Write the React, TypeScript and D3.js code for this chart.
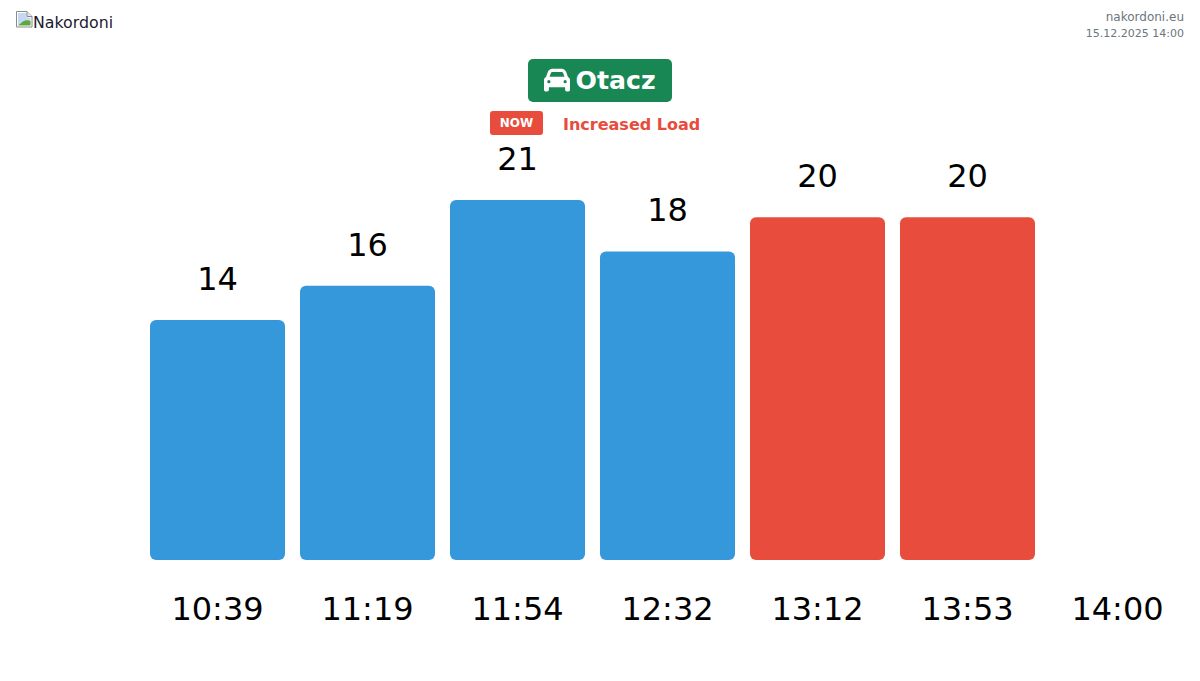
import React from "react";
import * as d3 from "d3";

const times = ["10:39", "11:19", "11:54", "12:32", "13:12", "13:53", "14:00"];
const counts = [14, 16, 21, 18, 20, 20];
const colors = ["#3498db", "#3498db", "#3498db", "#3498db", "#e74c3c", "#e74c3c"];
const crossing = "Otacz";
const statusBadge = "NOW";
const statusText = "Increased Load";
const site = "nakordoni.eu";
const stamp = "15.12.2025 14:00";
const logoAlt = "Nakordoni";
const CAR = "M135.2 117.4L109.1 192H402.9l-26.1-74.6C372.3 104.6 360.2 96 346.6 96H165.4c-13.6 0-25.7 8.6-30.2 21.4zM39.6 196.8L74.8 96.3C88.3 57.8 124.6 32 165.4 32H346.6c40.8 0 77.1 25.8 90.6 64.3l35.2 100.5c23.2 9.6 39.6 32.5 39.6 59.2V400v48c0 17.7-14.3 32-32 32H448c-17.7 0-32-14.3-32-32V400H96v48c0 17.7-14.3 32-32 32H32c-17.7 0-32-14.3-32-32V400 256c0-26.7 16.4-49.6 39.6-59.2zM128 288a32 32 0 1 0 -64 0 32 32 0 1 0 64 0zm288 32a32 32 0 1 0 0-64 32 32 0 1 0 0 64z";

const FONT = "'DejaVu Sans', sans-serif";

export default function App() {
  const x = d3.scaleBand<string>().domain(times).range([142.5, 1192.5]).paddingInner(0.1).paddingOuter(0.05);
  const y = d3.scaleLinear().domain([0, 21]).range([560, 200]);
  return (
    <svg width={1200} height={681} style={{ position: "absolute", left: 0, top: 0, background: "#fff" }} fontFamily={FONT}>
      {/* broken image icon */}
      <g>
        <path d="M16.5 11.5H27l5 5v10.5H16.5z" fill="#fff" stroke="#8a8a8a" />
        <path d="M18 13h8.5v4.5H30.5V25H18z" fill="#c5d8f3" />
        <path d="M18 25.5l5-4c3-2 5-1.500 7.500-.5v4.500z" fill="#5ca83c" />
        <path d="M27 11.500v5h5" fill="#e8e8e8" stroke="#8a8a8a" />
      </g>
      <text x={33} y={28} fontSize={15.8} fill="#1a1a2e">{logoAlt}</text>
      <text x={1184} y={21} fontSize={12} fill="#6c757d" textAnchor="end">{site}</text>
      <text x={1184} y={37} fontSize={11} fill="#6c757d" textAnchor="end">{stamp}</text>

      <rect x={528} y={59} width={144} height={43} rx={5} fill="#198754" />
      <path d={CAR} fill="#fff" transform={`translate(544 67) scale(${26 / 512})`} />
      <text x={575.5} y={89} fontSize={25.2} fontWeight={700} fill="#fff">{crossing}</text>

      <rect x={490} y={111} width={53} height={24} rx={3} fill="#e74c3c" />
      <text x={516.5} y={127} fontSize={12} fontWeight={700} fill="#fff" textAnchor="middle">{statusBadge}</text>
      <text x={563} y={130} fontSize={16} fontWeight={700} fill="#e74c3c">{statusText}</text>

      {counts.map((c, i) => {
        const t = times[i];
        return (
          <g key={t}>
            <rect x={x(t)} y={y(c)} width={x.bandwidth()} height={560 - y(c)} rx={6} fill={colors[i]} />
            <text x={x(t)! + x.bandwidth() / 2} y={y(c) - 30} fontSize={32} fill="#000" textAnchor="middle">{c}</text>
          </g>
        );
      })}
      {times.map((t) => (
        <text key={t} x={x(t)! + x.bandwidth() / 2} y={620} fontSize={32} fill="#000" textAnchor="middle">{t}</text>
      ))}
    </svg>
  );
}
